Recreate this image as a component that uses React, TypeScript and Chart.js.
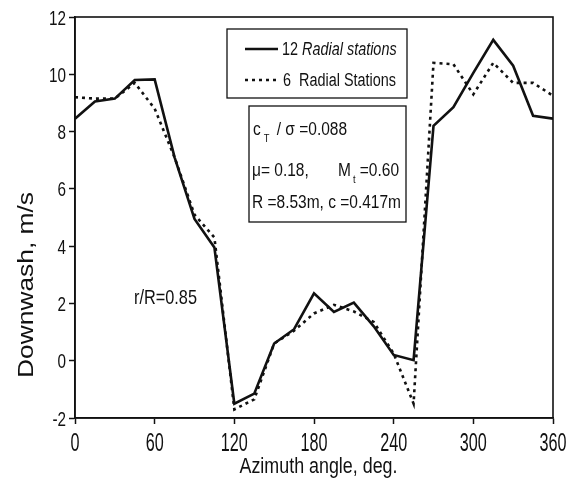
import React, { useEffect, useRef } from "react";
import { Chart, registerables } from "chart.js";

Chart.register(...registerables);

// ---- data ----
const azimuthDeg = [0, 15, 30, 45, 60, 75, 90, 105, 120, 135, 150, 165, 180, 195, 210, 225, 240, 255, 270, 285, 300, 315, 330, 345, 360];
const downwash12 = [8.45, 9.05, 9.15, 9.8, 9.82, 7.1, 4.95, 3.95, -1.5, -1.15, 0.6, 1.1, 2.35, 1.7, 2.03, 1.2, 0.2, 0.02, 8.2, 8.85, 10.05, 11.2, 10.3, 8.55, 8.45];
const downwash6 = [9.2, 9.15, 9.15, 9.7, 8.8, 7.1, 5.1, 4.3, -1.7, -1.35, 0.6, 1.05, 1.65, 1.95, 1.72, 1.35, 0.25, -1.5, 10.4, 10.35, 9.3, 10.4, 9.7, 9.7, 9.25];
const xTickValues = [0, 60, 120, 180, 240, 300, 360];
const yTickValues = [-2, 0, 2, 4, 6, 8, 10, 12];
const label12 = ["12 ", "Radial stations"];
const label6 = "6  Radial Stations";
const xTitle = "Azimuth angle, deg.";
const yTitle = "Downwash, m/s";
const paramLine1 = ["c", "T", " / \u03c3 =0.088"];
const paramLine2 = ["\u03bc= 0.18,", "M", "t", " =0.60"];
const paramLine3 = "R =8.53m, c =0.417m";
const stationNote = "r/R=0.85";

const FAMILY = '"Liberation Sans", Arial, sans-serif';
const INK = "#111";
const CAP = 0.716;

function setFont(ctx: CanvasRenderingContext2D, size: number, italic = false) {
  ctx.font = `${italic ? "italic " : ""}${size}px ${FAMILY}`;
}

// draw text with font chosen from cap height, squeezed horizontally by sx
function drawSx(ctx: CanvasRenderingContext2D, text: string, x: number, baseline: number, capH: number, sx: number, align: CanvasTextAlign = "left", italic = false) {
  setFont(ctx, capH / CAP, italic);
  ctx.save();
  ctx.translate(x, baseline);
  ctx.scale(sx, 1);
  ctx.textAlign = align;
  ctx.textBaseline = "alphabetic";
  ctx.fillText(text, 0, 0);
  ctx.restore();
  return ctx.measureText(text).width * sx;
}

function widthOf(ctx: CanvasRenderingContext2D, text: string, capH: number, sx: number) {
  setFont(ctx, capH / CAP);
  return ctx.measureText(text).width * sx;
}

function sxFor(ctx: CanvasRenderingContext2D, text: string, capH: number, width: number) {
  setFont(ctx, capH / CAP);
  return width / ctx.measureText(text).width;
}

const decorPlugin = {
  id: "decor",
  afterDraw(chart: any) {
    const { ctx, chartArea, scales } = chart;
    const { left, top, right, bottom } = chartArea;
    ctx.save();
    ctx.strokeStyle = INK;
    ctx.fillStyle = INK;
    ctx.lineWidth = 1.6;
    ctx.strokeRect(left, top, right - left, bottom - top);

    // x tick labels
    const xs = scales.x;
    const sxX = sxFor(ctx, "360", 19, 27);
    xTickValues.forEach((v) => {
      drawSx(ctx, String(v), xs.getPixelForValue(v), 451, 19, sxX, "center");
    });
    // y tick labels
    const ys = scales.y;
    const sxY = sxFor(ctx, "12", 15, 17);
    yTickValues.forEach((v) => {
      drawSx(ctx, String(v), 66, ys.getPixelForValue(v) + 7.5, 15, sxY, "right");
    });
    // x title
    drawSx(ctx, xTitle, (240 + 397) / 2, 473, 15.5, sxFor(ctx, xTitle, 15.5, 158), "center");
    // y title (rotated)
    {
      const sxT = sxFor(ctx, yTitle, 15.5, 186);
      ctx.save();
      ctx.translate(33, 285);
      ctx.rotate(-Math.PI / 2);
      drawSx(ctx, yTitle, 0, 0, 15.5, sxT, "center");
      ctx.restore();
    }

    // legend box
    ctx.lineWidth = 1.3;
    ctx.strokeRect(227, 29, 180, 69);
    ctx.lineWidth = 2.6;
    ctx.setLineDash([]);
    ctx.beginPath();
    ctx.moveTo(245, 49);
    ctx.lineTo(278, 49);
    ctx.stroke();
    ctx.setLineDash([3, 4]);
    ctx.beginPath();
    ctx.moveTo(245, 80);
    ctx.lineTo(278, 80);
    ctx.stroke();
    ctx.setLineDash([]);
    const legCap = 12.8;
    const sxL = sxFor(ctx, label6, legCap, 113);
    const w12 = drawSx(ctx, label12[0], 282, 55, legCap, sxL, "left");
    drawSx(ctx, label12[1], 282 + w12, 55, legCap, sxL, "left", true);
    drawSx(ctx, label6, 283, 86, legCap, sxL, "left");

    // parameter box
    ctx.lineWidth = 1.3;
    ctx.strokeRect(249, 106, 157, 116);
    const pCap = 12.5;
    const subCap = 7.5;
    const sxP = sxFor(ctx, paramLine3, pCap, 149);
    let x = 253;
    x += drawSx(ctx, paramLine1[0], x, 135, pCap, sxP) + 3;
    x += drawSx(ctx, paramLine1[1], x, 142, subCap, sxP) + 3;
    drawSx(ctx, paramLine1[2], x, 135, pCap, sxP);

    drawSx(ctx, paramLine2[0], 252, 176, pCap, sxP);
    const groupW =
      widthOf(ctx, paramLine2[1], pCap, sxP) + 2 + widthOf(ctx, paramLine2[2], subCap, sxP) + widthOf(ctx, paramLine2[3], pCap, sxP);
    x = 399 - groupW;
    x += drawSx(ctx, paramLine2[1], x, 176, pCap, sxP) + 2;
    x += drawSx(ctx, paramLine2[2], x, 183, subCap, sxP);
    drawSx(ctx, paramLine2[3], x, 176, pCap, sxP);

    drawSx(ctx, paramLine3, 252, 208, pCap, sxP);

    // station note
    drawSx(ctx, stationNote, 134, 304, 14, sxFor(ctx, stationNote, 14, 63));
    ctx.restore();
  },
};

export default function App() {
  const ref = useRef<HTMLCanvasElement | null>(null);
  useEffect(() => {
    document.body.style.margin = "0";
    const canvas = ref.current;
    if (!canvas) return;
    const chart = new Chart(canvas, {
      type: "line",
      data: {
        datasets: [
          {
            label: label12.join(""),
            data: azimuthDeg.map((a, i) => ({ x: a, y: downwash12[i] })),
            borderColor: INK,
            borderWidth: 2.6,
            pointRadius: 0,
            tension: 0,
            fill: false,
          },
          {
            label: label6,
            data: azimuthDeg.map((a, i) => ({ x: a, y: downwash6[i] })),
            borderColor: INK,
            borderWidth: 2.6,
            borderDash: [3, 4],
            pointRadius: 0,
            tension: 0,
            fill: false,
          },
        ],
      },
      options: {
        animation: false,
        responsive: false,
        maintainAspectRatio: false,
        layout: { padding: { left: 0, top: 17, right: 25, bottom: 0 } },
        plugins: { legend: { display: false }, tooltip: { enabled: false } },
        scales: {
          x: {
            type: "linear",
            min: 0,
            max: 360,
            afterBuildTicks: (s: any) => {
              s.ticks = xTickValues.map((v) => ({ value: v }));
            },
            afterFit: (s: any) => {
              s.height = 65;
            },
            grid: { drawOnChartArea: false, drawTicks: true, tickLength: 6, color: INK, tickColor: INK, tickWidth: 1.5 },
            border: { display: true, color: INK, width: 1.6 },
            ticks: { display: false },
            title: { display: false },
          },
          y: {
            type: "linear",
            min: -2,
            max: 12,
            afterBuildTicks: (s: any) => {
              s.ticks = yTickValues.map((v) => ({ value: v }));
            },
            afterFit: (s: any) => {
              s.width = 75;
            },
            grid: { drawOnChartArea: false, drawTicks: true, tickLength: 6, color: INK, tickColor: INK, tickWidth: 1.5 },
            border: { display: true, color: INK, width: 1.6 },
            ticks: { display: false },
            title: { display: false },
          },
        },
      },
      plugins: [decorPlugin],
    });
    return () => chart.destroy();
  }, []);
  return (
    <div style={{ width: 578, height: 483, background: "#fff" }}>
      <canvas ref={ref} width={578} height={483} style={{ display: "block" }} />
    </div>
  );
}
